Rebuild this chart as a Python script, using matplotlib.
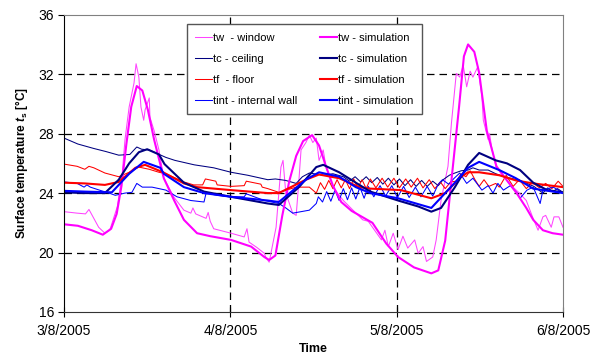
import matplotlib.pyplot as plt

plt.rcParams['font.family'] = ['Liberation Sans', 'DejaVu Sans']
plt.rcParams['mathtext.fontset'] = 'custom'
plt.rcParams['mathtext.it'] = 'Liberation Sans:bold:italic'
plt.rcParams['mathtext.rm'] = 'Liberation Sans:bold'

# time in hours from 3/8/2005 00:00
tick_hours = [0, 24, 48, 72]
tick_labels = ["3/8/2005", "4/8/2005", "5/8/2005", "6/8/2005"]

# tw - window (measured)
tw_h = [0, 1.9, 3.1, 3.6, 4.3, 5.0, 5.9, 6.6, 7.7, 8.4, 8.8, 9.4, 10.1, 10.4, 10.8, 11.1,
        11.5, 11.7, 12.3, 12.4, 13.0, 13.7, 14.4, 15.9, 17.3, 18.3, 18.6, 19.0, 20.5, 20.8,
        21.1, 21.6, 24.1, 26.0, 26.4, 26.7, 27.8, 28.9, 29.1, 29.6, 30.6, 31.3, 31.6, 32.0,
        33.0, 33.5, 33.9, 34.2, 34.9, 35.4, 35.9, 36.4, 36.8, 37.4, 37.8, 38.8, 40.3, 41.7,
        43.1, 43.9, 45.8, 46.3, 46.8, 47.5, 48.2, 48.9, 49.6, 50.6, 51.1, 51.8, 52.3, 53.2,
        53.7, 54.4, 55.4, 55.9, 56.6, 57.1, 57.6, 58.1, 58.6, 59.0, 59.7, 60.3, 60.5, 61.2,
        61.4, 61.7, 62.3, 64.2, 65.7, 66.7, 67.6, 68.4, 69.1, 69.5, 70.3, 70.7, 71.4, 72]
tw_meas = [22.75, 22.65, 22.6, 22.9, 22.3, 21.7, 21.3, 21.5, 23.1, 25.3, 27.6, 29.8, 31.4, 32.7, 31.8, 29.8,
           28.9, 29.6, 30.4, 29.1, 28.2, 26.9, 25.0, 23.7, 22.85, 22.65, 23.0, 22.6, 22.3, 22.7,
           22.1, 21.6, 21.3, 21.05, 21.6, 20.7, 20.35, 19.95, 19.7, 19.35, 21.7, 25.75, 26.2, 24.0,
           22.65, 22.5, 24.9, 26.9, 27.4, 27.9, 27.4, 27.7, 26.2, 26.9, 25.75, 24.4, 23.5, 22.85,
           22.2, 22.1, 20.85, 21.5, 20.4, 21.3, 20.2, 21.1, 20.3, 20.85, 19.95, 20.4, 19.4, 19.7,
           20.85, 23.5, 25.8, 28.7, 32.05, 31.8, 32.6, 31.15, 32.2, 31.8, 32.5, 30.5, 28.9, 27.6,
           28.0, 27.1, 25.8, 24.65, 24.0, 23.5, 22.4, 21.5, 22.4, 22.5, 21.7, 22.4, 22.4, 21.7]

# tw - simulation
tws_h = [0, 2, 4, 5.6, 6.8, 7.6, 8.3, 9.0, 9.7, 10.5, 11.3, 12.1, 13.0, 14.4, 15.9, 17.3,
         19.2, 21.1, 24.1, 27.0, 28.9, 29.6, 30.5, 31.5, 32.5, 33.5, 34.5, 35.8, 36.8, 37.8,
         38.8, 40, 41.5, 43, 44.5, 46.5, 48.2, 50.5, 53, 54, 55, 56, 57, 57.7, 58.3, 59.2,
         59.9, 61, 62.4, 64, 65.3, 66.7, 67.7, 69.1, 70.5, 72]
tw_sim = [21.9, 21.8, 21.5, 21.2, 21.6, 22.6, 24.5, 27.3, 29.8, 31.2, 30.9, 29.6, 27.6, 25.0, 23.5, 22.2,
          21.3, 21.1, 20.85, 20.4, 19.7, 19.5, 19.8, 22.5, 24.8, 26.5, 27.5, 27.9, 27.2, 25.8,
          24.5, 23.4, 22.8, 22.4, 22.0, 20.6, 19.7, 19.0, 18.6, 18.8, 20.8, 25.3, 29.8, 33.2, 34.0, 33.5,
          32.1, 28.2, 25.8, 24.8, 24.0, 23.0, 22.2, 21.5, 21.3, 21.2]

# tc - ceiling (measured)
tc_h = [0, 2, 4.3, 6, 7.9, 9.5, 10.5, 11.2, 12.3, 14.7, 16, 18.8, 21.6, 24.1, 26.5, 29.4,
        30.5, 32, 33.5, 34.4, 35.4, 37.4, 38.8, 40.3, 41.2, 42.0, 42.8, 43.6, 44.4, 45.2,
        46.0, 46.8, 47.6, 48.4, 49.2, 50.0, 50.8, 51.6, 52.4, 53.2, 54.0, 54.7, 55.6, 56.4,
        57.3, 58.3, 59.0, 59.9, 61.2, 62.3, 63.5, 65.8, 67.8, 69.1, 69.8, 70.5, 71.2, 72]
tc_meas = [27.7, 27.3, 27.0, 26.8, 26.55, 26.6, 27.1, 26.95, 26.9, 26.4, 26.2, 25.9, 25.7, 25.4, 25.2, 24.9,
           24.95, 24.85, 24.65, 25.1, 25.35, 25.2, 25.3, 25.1, 24.8, 25.1, 24.75, 25.1, 24.7, 25.05,
           24.6, 25.0, 24.55, 24.95, 24.5, 24.9, 24.45, 24.85, 24.45, 24.8, 24.5, 24.9, 25.2, 25.35,
           25.5, 25.55, 25.7, 25.55, 25.55, 25.3, 25.1, 24.85, 24.45, 24.0, 24.35, 24.1, 24.3, 24.05]

# tc - simulation
tcs_h = [0, 3, 5.9, 7.9, 9.4, 10.8, 12, 13.7, 14.5, 17.3, 20.2, 24.1, 29.4, 31, 33.9, 36.4,
         37.4, 39.7, 42.1, 44.2, 48.2, 51.1, 53, 54.4, 56.4, 58.3, 59.9, 62.3, 63.9, 65.8,
         67.7, 69.7, 72]
tc_sim = [24.05, 24.0, 24.0, 24.9, 26.0, 26.75, 26.95, 26.6, 25.95, 24.7, 24.1, 23.75, 23.3, 23.2, 24.4, 25.75,
          25.9, 25.4, 24.7, 24.1, 23.5, 23.1, 22.75, 23.0, 24.4, 25.9, 26.7, 26.2, 26.0, 25.55,
          24.7, 24.2, 24.05]

# tf - floor (measured)
tf_h = [0, 1.9, 3.0, 3.6, 4.3, 5.9, 7.9, 9.4, 10.8, 12.3, 13.7, 14.7, 17.3, 18.7, 20.0, 20.4,
        21.9, 22.1, 24.1, 26.0, 26.3, 28.4, 28.6, 29.4, 31, 33.5, 35.4, 36.4, 37.0, 37.6,
        38.2, 38.8, 39.4, 40.0, 40.6, 41.2, 41.8, 42.4, 43.0, 43.6, 44.2, 45.0, 45.9, 46.7,
        47.6, 48.4, 49.3, 50.1, 51.0, 51.8, 52.7, 53.5, 54.3, 55.0, 55.8, 56.6, 57.3, 58.0,
        58.6, 59.3, 59.9, 60.6, 61.3, 62.3, 62.8, 63.8, 64.8, 65.7, 66.7, 67.6, 68.6, 69.5,
        70.4, 71.3, 72]
tf_meas = [25.95, 25.8, 25.6, 25.8, 25.7, 25.35, 25.1, 25.4, 25.75, 25.6, 25.4, 25.3, 24.75, 24.55, 24.55, 24.95,
           24.8, 24.55, 24.45, 24.5, 24.8, 24.6, 24.4, 24.3, 24.05, 24.4, 24.4, 24.0, 24.7, 24.25,
           24.85, 24.3, 24.9, 24.35, 24.9, 24.3, 24.95, 24.35, 24.9, 24.3, 24.95, 24.35, 25.0, 24.4,
           25.0, 24.35, 24.95, 24.4, 25.0, 24.35, 24.9, 24.3, 24.75, 24.3, 24.75, 24.8, 25.3, 25.1,
           25.5, 24.9, 24.45, 24.9, 24.45, 24.65, 24.4, 25.2, 24.45, 24.9, 24.3, 24.7, 24.35, 24.65,
           24.3, 24.8, 24.45]

# tf - simulation
tfs_h = [0, 3, 5.9, 7.9, 10.3, 11.7, 14.3, 17.3, 19.2, 24.1, 29.4, 31, 34.9, 36.8, 39.7, 42.6,
         44.2, 48.6, 53, 55, 57.3, 58.3, 59.9, 62.8, 65.2, 67.7, 72]
tf_sim = [24.7, 24.65, 24.55, 24.75, 25.7, 25.9, 25.4, 24.65, 24.4, 24.2, 24.0, 24.0, 24.9, 25.25, 25.0, 24.4,
          24.3, 24.2, 23.65, 24.0, 25.1, 25.4, 25.4, 25.2, 24.85, 24.65, 24.4]

# tint - internal wall (measured)
ti_h = [0, 1.9, 2.9, 3.3, 3.8, 5.1, 6.5, 7.4, 8.8, 9.8, 10.5, 11.3, 12.7, 13.7, 14.7, 16.3,
        18.3, 20.2, 20.5, 22.1, 24.1, 26.0, 26.3, 28.9, 31.0, 32.0, 33.0, 35.4, 36.4, 36.7,
        37.3, 37.9, 38.5, 39.1, 39.7, 40.3, 40.9, 41.5, 42.1, 42.7, 43.3, 43.9, 44.7, 45.6,
        46.4, 47.3, 48.1, 49.0, 49.8, 50.7, 51.5, 52.4, 53.2, 54.0, 54.6, 55.5, 56.3, 57.1,
        58.1, 59.0, 60.3, 61.2, 61.9, 62.6, 63.4, 64.4, 65.4, 65.8, 66.8, 67.7, 68.7, 69.1,
        70.6, 72]
ti_meas = [24.75, 24.65, 24.4, 24.55, 24.4, 24.2, 24.0, 23.85, 24.0, 24.05, 24.65, 24.4, 24.4, 24.3, 24.2, 23.75,
           23.5, 23.4, 24.0, 23.85, 23.75, 23.75, 23.95, 23.5, 23.3, 23.0, 22.65, 22.85, 23.3, 23.75,
           23.4, 24.1, 23.45, 24.2, 23.5, 24.3, 23.55, 24.35, 23.6, 24.4, 23.65, 24.45, 23.75, 24.5,
           23.8, 24.5, 23.7, 24.45, 23.7, 24.4, 23.75, 24.45, 23.8, 24.6, 24.9, 24.6, 25.0, 25.35,
           24.65, 25.0, 24.2, 24.5, 24.0, 24.65, 24.2, 24.5, 24.0, 23.65, 24.2, 24.4, 23.3, 24.2,
           24.4, 24.0]

# tint - simulation
tis_h = [0, 3, 6.9, 9.4, 11.5, 13.9, 14.4, 17.3, 20.2, 24.1, 29.4, 31, 34.9, 36.8, 39.7, 42.1,
         44.2, 48.2, 53, 56.4, 58.3, 59.9, 62.8, 65.2, 67.7, 72]
ti_sim = [24.15, 24.1, 24.05, 25.3, 26.1, 25.7, 25.3, 24.4, 24.0, 23.75, 23.5, 23.4, 24.9, 25.4, 25.1, 24.4,
          24.0, 23.65, 23.0, 24.7, 25.7, 26.1, 25.55, 25.0, 24.3, 24.0]

fig = plt.figure(figsize=(6.01, 3.63), dpi=100)
ax = fig.add_axes([0.1065, 0.1405, 0.8303, 0.819])

thin = 0.75
thick = 1.5
l1, = ax.plot(tw_h, tw_meas, color="#ff44ff", lw=thin, label="tw  - window")
l2, = ax.plot(tc_h, tc_meas, color="#000080", lw=thin, label="tc - ceiling")
l3, = ax.plot(tf_h, tf_meas, color="#ff0000", lw=thin, label="tf  - floor")
l4, = ax.plot(ti_h, ti_meas, color="#0000ff", lw=thin, label="tint - internal wall")
l5, = ax.plot(tws_h, tw_sim, color="#ff00ff", lw=thick, label="tw - simulation")
l6, = ax.plot(tfs_h, tf_sim, color="#ff0000", lw=thick, label="tf - simulation")
l7, = ax.plot(tcs_h, tc_sim, color="#000080", lw=thick, label="tc - simulation")
l8, = ax.plot(tis_h, ti_sim, color="#0000ff", lw=thick, label="tint - simulation")

ax.set_xlim(0, 72)
ax.set_ylim(16, 36)
ax.set_yticks([16, 20, 24, 28, 32, 36])
ax.set_xticks(tick_hours)
ax.set_xticklabels(tick_labels)
ax.tick_params(axis="y", direction="out", length=4, labelsize=10, pad=3)
ax.tick_params(axis="x", direction="inout", length=7, labelsize=10, pad=5)

for yv in [20, 24, 28, 32]:
    ax.axhline(yv, color="k", lw=0.9, dashes=(6, 4), zorder=0)
for xv in [24, 48]:
    ax.axvline(xv, color="k", lw=0.9, dashes=(6, 4), zorder=0)

ax.spines["top"].set_color("#808080")
ax.spines["right"].set_color("#808080")
ax.spines["bottom"].set_color("#333333")

ax.set_ylabel(r"Surface temperature $t_{\rm s}$ [°C]", fontsize=8.5, fontweight="bold", labelpad=6)
ax.set_xlabel("Time", fontsize=9, fontweight="bold", labelpad=4)

leg = ax.legend(handles=[l1, l2, l3, l4, l5, l7, l6, l8], ncol=2, loc="upper left",
                bbox_to_anchor=(0.246, 0.968), borderaxespad=0, fontsize=8,
                fancybox=False, framealpha=1, edgecolor="#555555", borderpad=0.75,
                handlelength=1.5, handletextpad=0.1, columnspacing=2.1, labelspacing=1.0)
leg.get_frame().set_linewidth(1.0)

plt.savefig("out.png", dpi=100)
